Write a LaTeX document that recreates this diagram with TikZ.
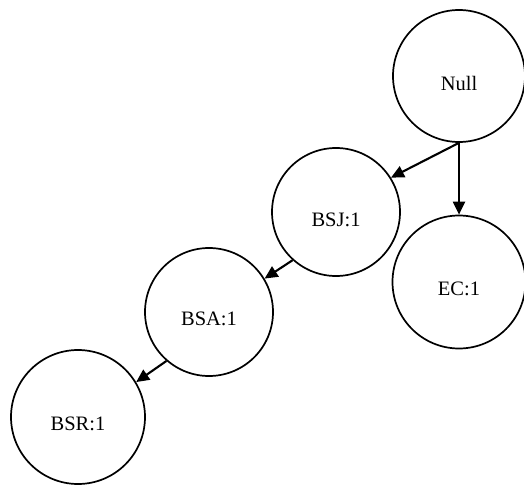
\documentclass[tikz,border=0pt]{standalone}
\usepackage{fontspec}
\setmainfont{Liberation Serif}
\usetikzlibrary{arrows.meta}
\begin{document}
\begin{tikzpicture}[x=1pt,y=-1pt,
  circ/.style={draw=black, line width=1.7pt, circle, inner sep=0pt},
  lbl/.style={font=\fontsize{20.5}{24}\selectfont, inner sep=0pt},
  edge/.style={draw=black, line width=2.1pt, -{Triangle[length=13pt,width=12pt]}}]
\useasboundingbox (0,0) rectangle (524,484);
\node[circ, minimum size=132pt] (null) at (459,76) {};
\node[circ, minimum size=128pt] (bsj) at (336,212) {};
\node[circ, minimum size=133pt] (ec) at (459,282) {};
\node[circ, minimum size=128pt] (bsa) at (209,312) {};
\node[circ, minimum size=134pt] (bsr) at (78,417) {};
\node[lbl] (nullt) at (459,83) {Null};
\node[lbl] (bsjt) at (336,220) {BSJ:1};
\node[lbl] (ect) at (459,289) {EC:1};
\node[lbl] (bsat) at (209,319) {BSA:1};
\node[lbl] (bsrt) at (78,424) {BSR:1};
\draw[edge] (null.south) -- (bsj.32);
\draw[edge] (null.south) -- (ec.north);
\draw[edge] (bsj.228) -- (bsa.31);
\draw[edge] (bsa.229) -- (bsr.31);
\end{tikzpicture}
\end{document}
